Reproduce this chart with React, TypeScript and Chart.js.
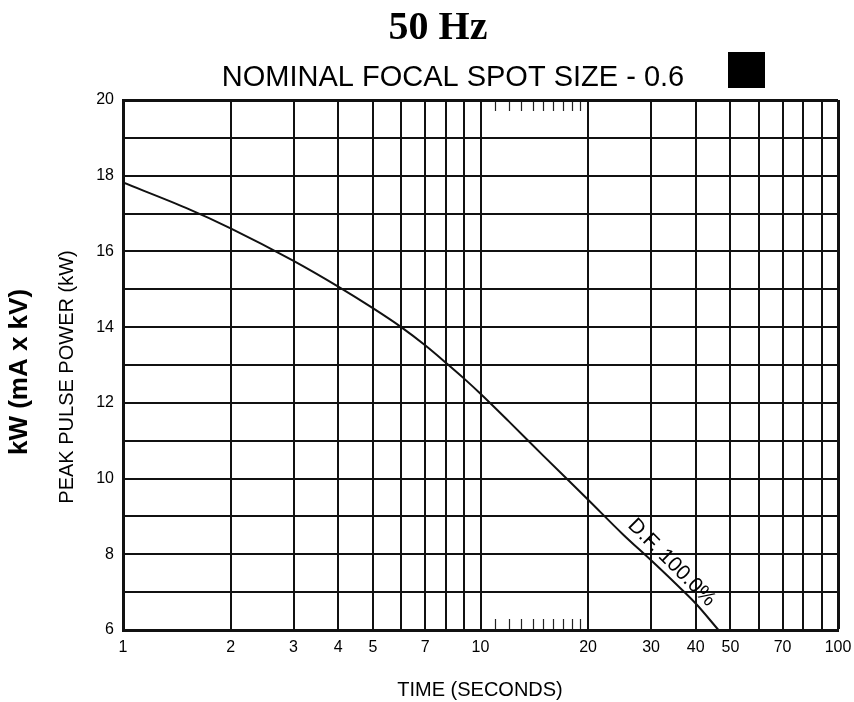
import React, { useEffect, useRef } from "react";
import { Chart, registerables } from "chart.js";

Chart.register(...registerables);

const chartTitle = "50 Hz";
const chartSubtitle = "NOMINAL FOCAL SPOT SIZE - 0.6";
const yTitleMain = "kW (mA x kV)";
const yTitleSub = "PEAK PULSE POWER (kW)";
const xTitle = "TIME (SECONDS)";
const curveLabel = "D.F. 100.0%";

// curve: time (s) vs peak pulse power (kW), D.F. 100.0%
const timeSeconds = [1, 1.5, 2, 3, 4, 5, 6, 7, 8, 9, 10, 12, 15, 20, 25, 30, 35, 40, 46.3];
const peakPowerKW = [17.82, 17.15, 16.61, 15.75, 15.07, 14.5, 14.0, 13.52, 13.06, 12.64, 12.24, 11.51, 10.6, 9.44, 8.53, 7.84, 7.24, 6.7, 6.0];

const xGridValues = [1, 2, 3, 4, 5, 6, 7, 8, 9, 10, 20, 30, 40, 50, 60, 70, 80, 90, 100];
const xTickLabels = [1, 2, 3, 4, 5, 7, 10, 20, 30, 40, 50, 70, 100];
const xMinorTicks = [11, 12, 13, 14, 15, 16, 17, 18, 19];
const yTickLabels = [6, 8, 10, 12, 14, 16, 18, 20];
const labelAnchor = { x: 33, y: 7.48 };

const SANS = '"Liberation Sans", Arial, sans-serif';

const decorPlugin = {
  id: "decor",
  afterDraw(chart: any) {
    const { ctx, chartArea: a } = chart;
    const xs = chart.scales.x;
    const ys = chart.scales.y;
    ctx.save();
    // minor ticks between 10 and 20
    ctx.strokeStyle = "#222";
    ctx.lineWidth = 1.2;
    xMinorTicks.forEach((v) => {
      const px = Math.round(xs.getPixelForValue(v)) + 0.5;
      ctx.beginPath();
      ctx.moveTo(px, a.top + 2);
      ctx.lineTo(px, a.top + 11);
      ctx.moveTo(px, a.bottom - 11);
      ctx.lineTo(px, a.bottom - 1);
      ctx.stroke();
    });
    ctx.fillStyle = "#000";
    ctx.textAlign = "center";
    ctx.textBaseline = "middle";
    ctx.font = 'bold 40px "Liberation Serif", serif';
    ctx.fillText(chartTitle, 430, 21);
    ctx.font = `29px ${SANS}`;
    ctx.fillText(chartSubtitle, 445, 70);
    ctx.fillRect(720, 44, 37, 36);
    // y titles
    ctx.save();
    ctx.translate(12, 364);
    ctx.rotate(-Math.PI / 2);
    ctx.font = `bold 26px ${SANS}`;
    ctx.fillText(yTitleMain, 0, 0);
    ctx.restore();
    ctx.save();
    ctx.translate(59, 369);
    ctx.rotate(-Math.PI / 2);
    ctx.font = `20px ${SANS}`;
    ctx.fillText(yTitleSub, 0, 0);
    ctx.restore();
    // x title
    ctx.font = `20px ${SANS}`;
    ctx.fillText(xTitle, 472, 682);
    // curve label
    const lx = xs.getPixelForValue(labelAnchor.x);
    const ly = ys.getPixelForValue(labelAnchor.y);
    ctx.save();
    ctx.translate(lx, ly);
    ctx.rotate(Math.PI / 4);
    ctx.font = `21px ${SANS}`;
    ctx.fillText(curveLabel, -4, -12);
    ctx.restore();
    ctx.restore();
  },
};

export default function App() {
  const ref = useRef<HTMLCanvasElement>(null);
  useEffect(() => {
    if (!ref.current) return;
    const chart = new Chart(ref.current, {
      type: "line",
      data: {
        datasets: [
          {
            data: timeSeconds.map((t, i) => ({ x: t, y: peakPowerKW[i] })),
            borderColor: "#111",
            borderWidth: 2,
            pointRadius: 0,
            cubicInterpolationMode: "monotone",
            fill: false,
          },
        ],
      },
      options: {
        animation: false,
        responsive: true,
        maintainAspectRatio: false,
        layout: { padding: { top: 92, right: 16, left: 0, bottom: 0 } },
        plugins: { legend: { display: false }, title: { display: false }, tooltip: { enabled: false } },
        scales: {
          x: {
            type: "logarithmic",
            min: 1,
            max: 100,
            afterBuildTicks: (s: any) => {
              s.ticks = xGridValues.map((v) => ({ value: v }));
            },
            afterFit: (s: any) => {
              s.height = 72;
              s.paddingLeft = 0;
              s.paddingRight = 0;
            },
            ticks: {
              autoSkip: false,
              maxRotation: 0,
              padding: 8,
              color: "#000",
              font: { family: SANS, size: 16 },
              callback: (v: any) => (xTickLabels.includes(Number(v)) ? String(v) : ""),
            },
            grid: {
              color: "#111",
              lineWidth: (c: any) => (c.tick && c.tick.value === 100 ? 3 : 2),
              drawTicks: false,
            },
            border: { color: "#111", width: 3 },
          },
          y: {
            type: "linear",
            min: 6,
            max: 20,
            afterFit: (s: any) => {
              s.width = 115;
              s.paddingTop = 0;
              s.paddingBottom = 0;
            },
            ticks: {
              stepSize: 1,
              autoSkip: false,
              padding: 9,
              color: "#000",
              font: { family: SANS, size: 16 },
              callback: (v: any) => (yTickLabels.includes(Number(v)) ? String(v) : ""),
            },
            grid: {
              color: "#111",
              lineWidth: (c: any) => (c.tick && c.tick.value === 20 ? 3 : 2),
              drawTicks: false,
            },
            border: { color: "#111", width: 3 },
          },
        },
      },
      plugins: [decorPlugin],
    } as any);
    return () => chart.destroy();
  }, []);
  return (
    <div style={{ position: "absolute", left: 8, top: 8, width: 846, height: 694 }}>
      <canvas ref={ref} />
    </div>
  );
}
